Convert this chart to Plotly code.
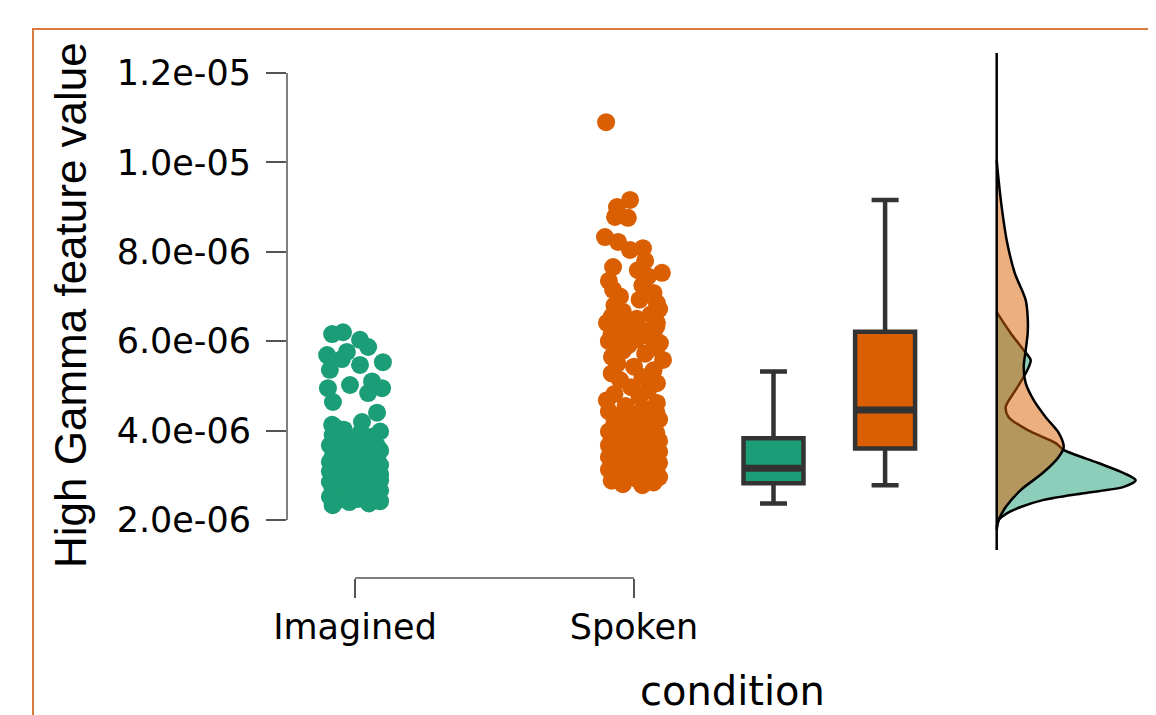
import plotly.graph_objects as go

# ---------------- data (values in units of 1e-6) ----------------
categories = ["Imagined", "Spoken"]
colors = ["#1B9E77", "#D95F02"]
fill_rgba = ["rgba(27,158,119,0.5)", "rgba(217,95,2,0.5)"]

imagined_vals = [
    2.33, 2.37, 2.40, 2.42, 2.45, 2.47, 2.50, 2.52, 2.54, 2.56, 2.58, 2.60, 2.61,
    2.63, 2.65, 2.66, 2.68, 2.70, 2.71, 2.73, 2.75, 2.76, 2.78, 2.80, 2.81,
    2.83, 2.85, 2.86, 2.88, 2.89, 2.90, 2.92, 2.93, 2.94, 2.96, 2.97, 2.98, 3.00,
    3.01, 3.02, 3.04, 3.05, 3.07, 3.08, 3.09, 3.11, 3.12, 3.13, 3.14, 3.15,
    3.18, 3.20, 3.23, 3.25, 3.27, 3.30, 3.32, 3.35, 3.37, 3.40, 3.42, 3.45, 3.47,
    3.50, 3.53, 3.55, 3.58, 3.61, 3.64, 3.67, 3.70, 3.73, 3.76, 3.79, 3.82,
    3.86, 3.90, 3.95, 3.98, 4.02, 4.07, 4.13, 4.19, 4.40, 4.64, 4.84, 4.95, 4.95,
    5.02, 5.10, 5.36, 5.47, 5.53, 5.60, 5.69, 5.76, 5.87, 6.03, 6.16, 6.20,
]
imagined_jitter = [
    -0.08, 0.05, -0.02, 0.09, -0.06, 0.01, 0.07, -0.09, 0.03, -0.04, 0.08, -0.01, 0.05,
    -0.07, 0.02, 0.09, -0.05, 0.04, -0.08, 0.00, 0.06, -0.03, 0.08, -0.06, 0.03,
    0.07, -0.09, 0.02, -0.04, 0.09, -0.07, 0.04, 0.00, -0.06, 0.08, -0.02, 0.05, -0.08,
    0.03, 0.09, -0.05, 0.01, 0.06, -0.03, -0.09, 0.07, 0.02, -0.06, 0.04, -0.01,
    -0.07, 0.03, 0.09, -0.03, 0.06, -0.09, 0.01, 0.08, -0.05, 0.04, -0.08, 0.07, -0.01,
    0.05, -0.06, 0.09, 0.02, -0.04, 0.08, -0.09, 0.03, -0.02, 0.06, -0.07, 0.01,
    0.06, -0.08, 0.02, 0.09, -0.04, -0.07, -0.082, 0.025, 0.079, -0.079, 0.047, -0.097, 0.097,
    -0.018, 0.061, -0.09, 0.018, 0.10, -0.047, -0.10, -0.029, 0.047, 0.018, -0.082, -0.043,
]

spoken_vals = [
    2.78, 2.80, 2.84, 2.88, 2.92, 2.96, 3.00, 3.03, 3.07, 3.10, 3.13, 3.16, 3.19, 3.22, 3.25,
    3.28, 3.30, 3.33, 3.36, 3.38, 3.41, 3.43, 3.45, 3.47, 3.49, 3.51, 3.53, 3.55, 3.57, 3.59,
    3.61, 3.63, 3.65, 3.67, 3.69, 3.71, 3.73, 3.75, 3.77, 3.79, 3.81, 3.83, 3.86, 3.89, 3.92,
    3.95, 3.98, 4.01, 4.05, 4.09, 4.13, 4.17, 4.21, 4.25, 4.29, 4.33, 4.37, 4.41, 4.43, 4.45,
    4.48, 4.55, 4.62, 4.68, 4.75, 4.82, 4.90, 4.97, 5.06, 5.13, 5.20, 5.28, 5.35, 5.43, 5.50,
    5.58, 5.65, 5.72, 5.79, 5.85, 5.91, 5.96, 6.00, 6.04, 6.08, 6.11, 6.14, 6.17, 6.19, 6.20,
    6.23, 6.28, 6.33, 6.38, 6.41, 6.41, 6.50, 6.55, 6.60, 6.66, 6.72, 6.80, 6.85, 6.93, 7.00,
    7.08, 7.15, 7.25, 7.35, 7.45, 7.53, 7.59, 7.66, 7.80, 8.04, 8.08, 8.22, 8.33, 8.76, 8.78,
    9.00, 9.16, 10.90,
]
spoken_jitter = [
    0.03, -0.04, 0.07, -0.08, 0.01, 0.09, -0.06, 0.04, -0.02, 0.08, -0.09, 0.02, 0.06, -0.05, 0.00,
    0.09, -0.07, 0.05, -0.03, 0.08, -0.09, 0.03, -0.01, 0.07, -0.06, 0.02, 0.09, -0.08, 0.05, -0.02,
    -0.07, 0.05, 0.01, -0.09, 0.08, -0.03, 0.04, -0.06, 0.09, 0.00, -0.08, 0.06, -0.02, 0.03, -0.05,
    0.08, -0.09, 0.02, 0.07, -0.04, 0.05, -0.07, 0.01, 0.09, -0.06, 0.04, -0.01, 0.08, -0.09, 0.03,
    0.06, -0.03, 0.082, -0.097, 0.02, -0.07, 0.05, -0.01, 0.082, -0.05, 0.03, -0.08, 0.07, 0.00, -0.06,
    0.104, -0.079, 0.04, -0.04, 0.08, -0.02, 0.093, -0.09, 0.01, 0.06, -0.05, 0.03, -0.08, 0.07, -0.01,
    0.04, -0.06, 0.08, -0.02, -0.097, 0.082, 0.01, -0.08, 0.06, -0.04, 0.09, -0.07, 0.082, 0.02, -0.05,
    0.07, -0.075, 0.03, -0.09, 0.05, 0.10, 0.014, -0.075, 0.04, -0.014, 0.032, -0.057, -0.104, -0.022, -0.068,
    -0.061, -0.014, -0.10,
]

# box statistics (whiskers exclude outliers)
box_q1 = [2.82, 3.60]
box_median = [3.16, 4.46]
box_q3 = [3.83, 6.21]
box_low = [2.37, 2.78]
box_high = [5.32, 9.16]

# density curves (value, relative density)
imag_dens_y = [6.65, 6.18, 5.80, 5.58, 5.42, 5.20, 4.91, 4.53, 4.30, 4.01, 3.72, 3.57,
               3.28, 3.05, 2.89, 2.74, 2.60, 2.45, 2.29, 2.16, 2.00, 1.84]
imag_dens_d = [0, 14, 27, 34, 32, 27, 19, 9, 12, 31, 59, 67,
               101, 127, 139, 127, 87, 47, 24, 11, 2, 0]
spok_dens_y = [10.05, 9.80, 9.38, 9.00, 8.26, 7.53, 6.92, 6.54, 6.18, 5.80, 5.42, 5.06,
               4.68, 4.30, 3.95, 3.63, 3.41, 3.05, 2.67, 2.29, 2.00, 1.78]
spok_dens_d = [0, 1, 3, 5, 10, 18, 29, 31, 31, 29, 27, 29,
               37, 49, 62, 67, 62, 46, 24, 9, 2, 0]

y_tick_vals = [2, 4, 6, 8, 10, 12]
y_tick_text = ["2.0e-06", "4.0e-06", "6.0e-06", "8.0e-06", "1.0e-05", "1.2e-05"]

# ---------------- layout constants ----------------
W, H = 1156, 715
PAGE_OFF = 8            # body margin of the html page
ML = 287 - PAGE_OFF
MR = W - (1150 - PAGE_OFF)
MT = 45 - PAGE_OFF
MB = H - (578 - PAGE_OFF)
PX_PER_X = 279.0
X0 = 1 - (355 - 287) / PX_PER_X
X1 = X0 + (W - ML - MR) / PX_PER_X
PX_PER_Y = 44.7
Y_TOP = 2 + (520 - 45) / PX_PER_Y
Y_BOT = 2 - (560 - 520) / PX_PER_Y
paper_h = H - MT - MB
y_dom0 = (578 - 560) / paper_h

BOX_POS = [2.5, 2.9]
BOX_WIDTH = 0.215
DENS_BASE = 3.30
DENS_SCALE = 1 / PX_PER_X
SCALE = 1e-6


def px_to_paper_x(px):  # px: position in the page
    return (px - PAGE_OFF - ML) / (W - ML - MR)


def px_to_paper_y(py):
    return (H - MB - (py - PAGE_OFF)) / paper_h


assert len(imagined_vals) == len(imagined_jitter)
assert len(spoken_vals) == len(spoken_jitter)

fig = go.Figure()

# jittered points
for i, (vals, jit) in enumerate([(imagined_vals, imagined_jitter), (spoken_vals, spoken_jitter)]):
    fig.add_trace(go.Scatter(
        x=[i + 1 + j for j in jit], y=[v * SCALE for v in vals], mode="markers",
        marker=dict(color=colors[i], size=18, line=dict(width=0)),
        showlegend=False, hoverinfo="skip"))

# boxes
for i in range(2):
    fig.add_trace(go.Box(
        x=[BOX_POS[i]], q1=[box_q1[i] * SCALE], median=[box_median[i] * SCALE],
        q3=[box_q3[i] * SCALE], lowerfence=[box_low[i] * SCALE],
        upperfence=[box_high[i] * SCALE], width=BOX_WIDTH, whiskerwidth=0.45,
        fillcolor=colors[i], line=dict(color="#333333", width=4.5),
        boxpoints=False, showlegend=False, hoverinfo="skip"))
    # thicker median bar
    fig.add_trace(go.Scatter(
        x=[BOX_POS[i] - BOX_WIDTH / 2 + 0.006, BOX_POS[i] + BOX_WIDTH / 2 - 0.006],
        y=[box_median[i] * SCALE] * 2, mode="lines",
        line=dict(color="#333333", width=7), showlegend=False, hoverinfo="skip"))

# densities
for i, (dy, dd) in enumerate([(imag_dens_y, imag_dens_d), (spok_dens_y, spok_dens_d)]):
    fig.add_trace(go.Scatter(
        x=[DENS_BASE + d * DENS_SCALE for d in dd], y=[v * SCALE for v in dy],
        mode="lines", fill="toself", fillcolor=fill_rgba[i],
        line=dict(color="black", width=2.5, shape="spline", smoothing=0.8),
        showlegend=False, hoverinfo="skip"))

# density baseline
fig.add_trace(go.Scatter(
    x=[DENS_BASE, DENS_BASE], y=[1.33 * SCALE, 12.45 * SCALE], mode="lines",
    line=dict(color="black", width=2.5), showlegend=False, hoverinfo="skip"))

axis_font = dict(family="DejaVu Sans", size=35, color="black")

fig.update_layout(
    width=W, height=H,
    margin=dict(l=ML, r=MR, t=MT, b=MB, pad=0),
    paper_bgcolor="white", plot_bgcolor="white",
    xaxis=dict(range=[X0, X1], tickvals=[1, 2], ticktext=categories,
               ticks="outside", ticklen=19, tickwidth=1.5, tickcolor="#555555",
               showline=False, showgrid=False, zeroline=False,
               anchor="free", position=0, tickfont=axis_font, ticklabelstandoff=-1),
    yaxis=dict(range=[Y_BOT * SCALE, Y_TOP * SCALE], domain=[y_dom0, 1],
               tickvals=[v * SCALE for v in y_tick_vals], ticktext=y_tick_text,
               ticks="outside", ticklen=20, tickwidth=1.5, tickcolor="#555555",
               showline=False, showgrid=False, zeroline=False,
               tickfont=axis_font, ticklabelstandoff=8),
    shapes=[
        # y axis line (R style, only across tick range)
        dict(type="line", xref="paper", yref="y", x0=0, x1=0,
             y0=y_tick_vals[0] * SCALE, y1=y_tick_vals[-1] * SCALE,
             line=dict(color="#555555", width=1.5)),
        # x axis bracket between categories
        dict(type="line", xref="x", yref="paper", x0=1, x1=2, y0=0, y1=0,
             line=dict(color="#555555", width=1.5)),
        # orange frame
        dict(type="rect", xref="paper", yref="paper",
             x0=px_to_paper_x(33), x1=px_to_paper_x(1300),
             y0=px_to_paper_y(900), y1=px_to_paper_y(29),
             line=dict(color="#DB7A3C", width=2), fillcolor="rgba(0,0,0,0)", layer="below"),
    ],
    annotations=[
        dict(text="High Gamma feature value", xref="paper", yref="paper",
             x=px_to_paper_x(70), y=px_to_paper_y(305), xanchor="center", yanchor="middle",
             textangle=-90, showarrow=False,
             font=dict(family="Liberation Sans", size=44, color="black")),
        dict(text="condition", xref="paper", yref="paper",
             x=px_to_paper_x(732), y=px_to_paper_y(691), xanchor="center", yanchor="middle",
             showarrow=False, font=dict(family="DejaVu Sans", size=40, color="black")),
    ],
)

fig.write_html("out.html")
